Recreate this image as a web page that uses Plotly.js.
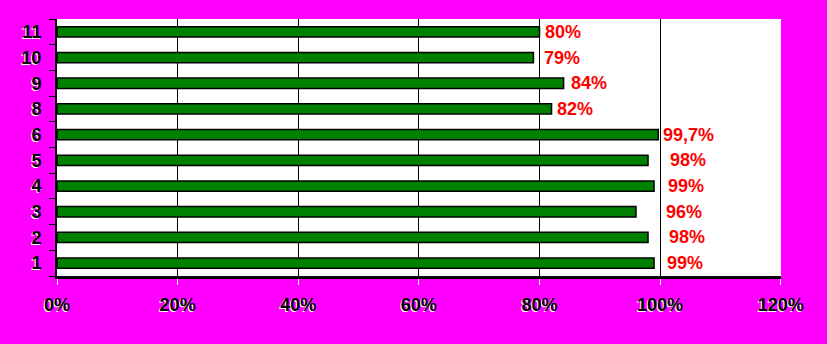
<!DOCTYPE html>
<html>
<head>
<meta charset="utf-8">
<script src="https://cdn.plot.ly/plotly-3.0.1.min.js"></script>
<style>html,body{margin:0;padding:0;background:#FF00FF;}</style>
</head>
<body>
<div id="chart" style="width:827px;height:344px;"></div>
<script>
const categories = ["1", "2", "3", "4", "5", "6", "8", "9", "10", "11"];
const values = [99, 98, 96, 99, 98, 99.7, 82, 84, 79, 80];
const labels = ["99%", "98%", "96%", "99%", "98%", "99,7%", "82%", "84%", "79%", "80%"];
const xTickVals = [0, 20, 40, 60, 80, 100, 120];
const xTickText = ["0%", "20%", "40%", "60%", "80%", "100%", "120%"];
// styling: horizontal pixel gap between bar end and its label (as in the original)
const labelGaps = [11, 19, 28, 12, 20, 3, 3, 5, 9, 4];

const trace = {
  type: "bar",
  orientation: "h",
  y: categories,
  x: values,
  marker: {color: "#008000", line: {color: "#000000", width: 1.5}},
  hoverinfo: "none"
};

// category axis: annotation y given as category index
const annotations = categories.map((c, i) => ({
  x: values[i],
  y: i,
  xref: "x",
  yref: "y",
  text: labels[i],
  showarrow: false,
  xanchor: "left",
  xshift: labelGaps[i],
  yshift: 0,
  font: {family: "Arial, Liberation Sans, sans-serif", size: 18, color: "#FF0000", weight: "bold"}
}));

const tickFont = {family: "Arial, Liberation Sans, sans-serif", size: 18, color: "#000000", weight: "bold", shadow: "-1px 1px 0px #ffffff"};

const layout = {
  width: 827,
  height: 344,
  paper_bgcolor: "#FF00FF",
  plot_bgcolor: "#FFFFFF",
  margin: {l: 57, r: 46, t: 19, b: 68},
  bargap: 0.6,
  showlegend: false,
  annotations: annotations,
  xaxis: {
    range: [0, 120.05],
    tickvals: xTickVals,
    ticktext: xTickText,
    showgrid: true,
    gridcolor: "#000000",
    gridwidth: 1,
    zeroline: false,
    showline: true,
    linecolor: "#000000",
    linewidth: 3,
    ticks: "outside",
    ticklen: 6,
    tickcolor: "#ffffff",
    ticklabelstandoff: 4,
    tickfont: tickFont,
    fixedrange: true
  },
  yaxis: {
    type: "category",
    categoryorder: "array",
    categoryarray: categories,
    range: [-0.5, categories.length - 0.5],
    dtick: 1,
    showgrid: false,
    zeroline: false,
    showline: true,
    linecolor: "#000000",
    linewidth: 2,
    ticks: "outside",
    tickson: "boundaries",
    ticklen: 6,
    tickcolor: "#000000",
    ticklabelstandoff: 10,
    tickfont: tickFont,
    fixedrange: true
  }
};

Plotly.newPlot("chart", [trace], layout, {displayModeBar: false, staticPlot: true});
</script>
</body>
</html>
